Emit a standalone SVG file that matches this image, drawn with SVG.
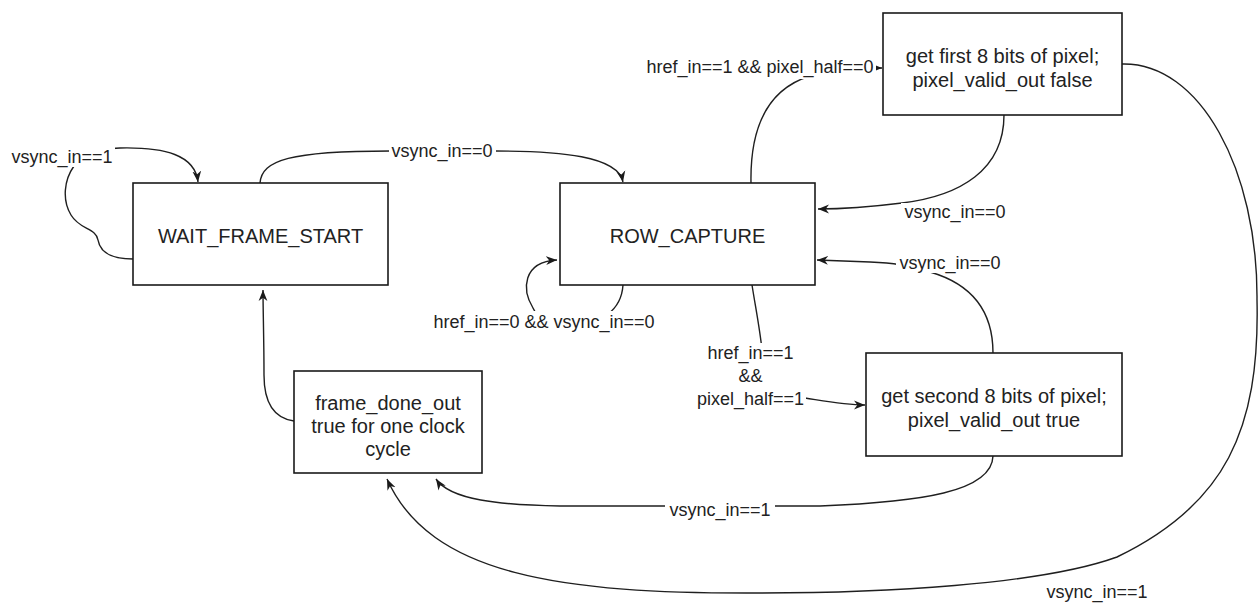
<svg xmlns="http://www.w3.org/2000/svg" width="1258" height="603" viewBox="0 0 1258 603">
<style>
.node{fill:#fff;stroke:#1a1a1a;stroke-width:1.6}
.nt{font-family:"Liberation Sans",Arial,sans-serif;font-size:20px;fill:#222;text-anchor:middle}
.edge{fill:none;stroke:#1f1f1f;stroke-width:1.4;marker-end:url(#arr)}
.lbg{fill:#fff}
.lt{font-family:"Liberation Sans",Arial,sans-serif;font-size:18px;fill:#222;text-anchor:middle}
</style>
<defs>
<marker id="arr" viewBox="0 0 10 10" refX="10" refY="5" markerWidth="11" markerHeight="11" markerUnits="userSpaceOnUse" orient="auto"><path d="M0,1 L10,5 L0,9 L3,5 z" fill="#1a1a1a"/></marker>
</defs>
<rect width="1258" height="603" fill="#fff"/>
<g id="connectors">
<path class="edge" d="M133,259 C110,259 100,252 98,240 C96,228 80,230 71,215 C62,200 64,180 74,166 C85,152 100,149 120,148 C165,147 195,155 198,182"/>
<path class="edge" d="M260,183 C262,160 290,151 390,151 L495,151 C560,151 618,156 623,182"/>
<path class="edge" d="M623,285 C622,300 616,308 608,314 C580,330 540,325 533,308 C522,290 522,262 557,260"/>
<path class="edge" d="M751,183 C750,130 765,90 810,76 C830,70 850,68 882,68"/>
<path class="edge" d="M1004,115 C1004,170 960,196 902,203 C870,207 845,209 818,209"/>
<path class="edge" d="M993,353 C993,315 975,285 930,272 C905,265 895,263 870,262 L817,260"/>
<path class="edge" d="M752,285 C756,310 760,330 762,350 C770,390 790,396 805,398 C830,402 845,405 865,405"/>
<path class="edge" d="M993,456 C992,492 920,502 820,506 L560,506 C500,505 450,500 436,479"/>
<path class="edge" d="M1122,64 C1200,62 1258,170 1257,300 C1260,430 1225,505 1117,557 C1040,585 880,593 760,593 C560,594 430,575 387,479"/>
<path class="edge" d="M294,421 C272,418 264,400 264,375 C264,340 263,310 263,290"/>
</g>
<g id="labels">
<rect class="lbg" x="10" y="146" width="105" height="21"/>
<text class="lt" x="62" y="163">vsync_in==1</text>
<rect class="lbg" x="389" y="142" width="107" height="20"/>
<text class="lt" x="442" y="157">vsync_in==0</text>
<rect class="lbg" x="643" y="58" width="233" height="21"/>
<text class="lt" x="760" y="73">href_in==1 &amp;&amp; pixel_half==0</text>
<rect class="lbg" x="901" y="203" width="108" height="20"/>
<text class="lt" x="955" y="218">vsync_in==0</text>
<rect class="lbg" x="896" y="253" width="108" height="20"/>
<text class="lt" x="950" y="269">vsync_in==0</text>
<rect class="lbg" x="430" y="311" width="229" height="22"/>
<text class="lt" x="544" y="328">href_in==0 &amp;&amp; vsync_in==0</text>
<rect class="lbg" x="696" y="343" width="110" height="67"/>
<text class="lt" x="750.5" y="359">href_in==1</text>
<text class="lt" x="750.5" y="382">&amp;&amp;</text>
<text class="lt" x="750.5" y="405">pixel_half==1</text>
<rect class="lbg" x="665" y="500" width="110" height="21"/>
<text class="lt" x="720" y="516">vsync_in==1</text>
<text class="lt" x="1097" y="598">vsync_in==1</text>
</g>
<g id="wait_frame_start">
<rect class="node" x="133" y="183" width="255" height="102"/>
<text class="nt" x="260.5" y="243">WAIT_FRAME_START</text>
</g>
<g id="row_capture">
<rect class="node" x="560" y="183" width="255" height="102"/>
<text class="nt" x="687.5" y="243">ROW_CAPTURE</text>
</g>
<g id="first_bits">
<rect class="node" x="883" y="13" width="239" height="102"/>
<text class="nt" x="1002.5" y="63">get first 8 bits of pixel;</text>
<text class="nt" x="1002.5" y="87">pixel_valid_out false</text>
</g>
<g id="second_bits">
<rect class="node" x="866" y="353" width="256" height="103"/>
<text class="nt" x="994" y="403">get second 8 bits of pixel;</text>
<text class="nt" x="994" y="427">pixel_valid_out true</text>
</g>
<g id="frame_done">
<rect class="node" x="294" y="371" width="188" height="102"/>
<text class="nt" x="388" y="410">frame_done_out</text>
<text class="nt" x="388" y="433">true for one clock</text>
<text class="nt" x="388" y="456">cycle</text>
</g>
</svg>
